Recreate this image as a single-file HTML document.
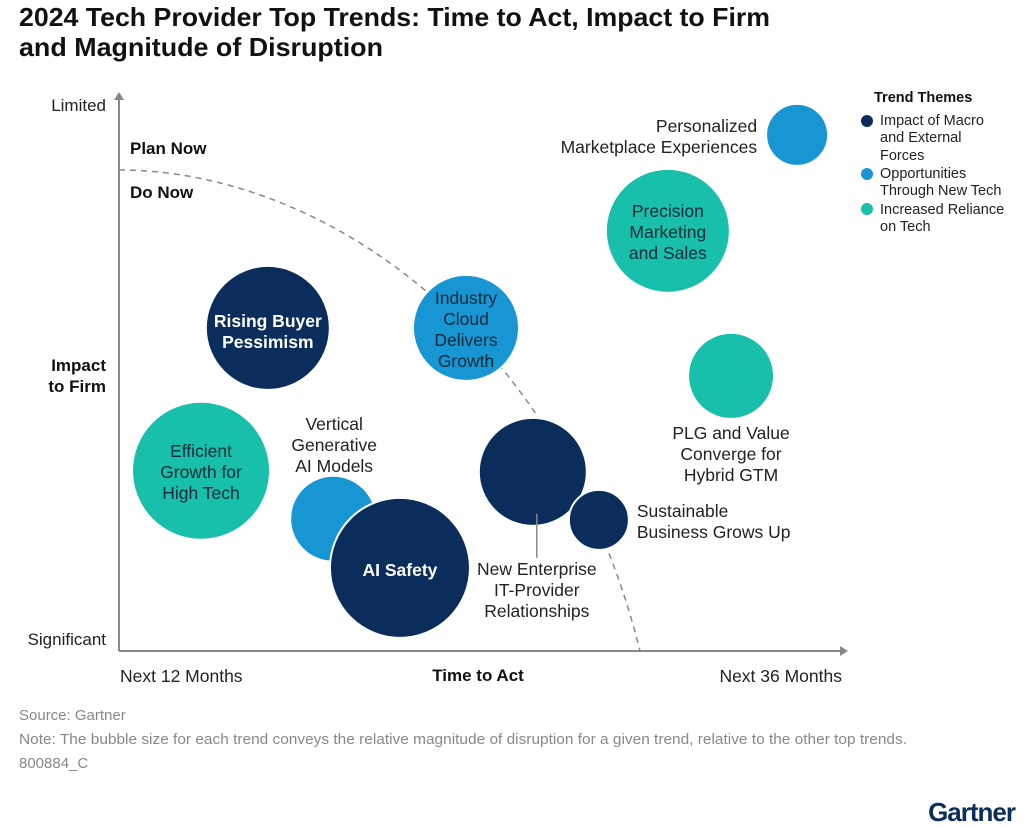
<!DOCTYPE html>
<html><head><meta charset="utf-8"><style>
body{margin:0;background:#fff;width:1029px;height:828px;overflow:hidden;font-family:"Liberation Sans",sans-serif}
svg{position:absolute;left:0;top:0}
</style></head><body>
<svg id="chart" width="1029" height="828" viewBox="0 0 1029 828" xmlns="http://www.w3.org/2000/svg" font-family="Liberation Sans, sans-serif">
<text x="19" y="26" font-size="26" font-weight="bold" fill="#111" textLength="751" lengthAdjust="spacingAndGlyphs">2024 Tech Provider Top Trends: Time to Act, Impact to Firm</text>
<text x="19" y="56" font-size="26" font-weight="bold" fill="#111" textLength="364" lengthAdjust="spacingAndGlyphs">and Magnitude of Disruption</text>
<line x1="119" y1="651" x2="119" y2="96" stroke="#888" stroke-width="2"/>
<polygon points="114,100 124,100 119,92" fill="#888"/>
<line x1="119" y1="651" x2="842" y2="651" stroke="#888" stroke-width="2"/>
<polygon points="840,646 840,656 848,651" fill="#888"/>
<path d="M119,170 C320,170 560,330 640,651" fill="none" stroke="#888" stroke-width="1.5" stroke-dasharray="6,5"/>
<text x="106" y="111" font-size="17" text-anchor="end" fill="#222">Limited</text>
<text x="106" y="645" font-size="17" text-anchor="end" fill="#222">Significant</text>
<text x="106" y="371" font-size="17" font-weight="bold" text-anchor="end" fill="#111">Impact</text>
<text x="106" y="392" font-size="17" font-weight="bold" text-anchor="end" fill="#111">to Firm</text>
<text x="120" y="682" font-size="17.5" fill="#222">Next 12 Months</text>
<text x="478" y="681" font-size="17" font-weight="bold" text-anchor="middle" fill="#111">Time to Act</text>
<text x="842" y="682" font-size="17.5" text-anchor="end" fill="#222">Next 36 Months</text>
<text x="130" y="154" font-size="17" font-weight="bold" fill="#111">Plan Now</text>
<text x="130" y="198" font-size="17" font-weight="bold" fill="#111">Do Now</text>
<g id="bubbles"></g>
<g>
<text x="874" y="102" font-size="14.5" font-weight="bold" fill="#111">Trend Themes</text>
<circle cx="867" cy="121" r="6" fill="#0a2d5c"/>
<text font-size="14.5" fill="#222"><tspan x="880" y="125">Impact of Macro</tspan><tspan x="880" y="142">and External</tspan><tspan x="880" y="160">Forces</tspan></text>
<circle cx="867" cy="174" r="6" fill="#1895d3"/>
<text font-size="14.5" fill="#222"><tspan x="880" y="178">Opportunities</tspan><tspan x="880" y="195">Through New Tech</tspan></text>
<circle cx="867" cy="209" r="6" fill="#18bfaa"/>
<text font-size="14.5" fill="#222"><tspan x="880" y="214">Increased Reliance</tspan><tspan x="880" y="231">on Tech</tspan></text>
</g>
<text x="19" y="720" font-size="15" fill="#888">Source: Gartner</text>
<text x="19" y="744" font-size="15" fill="#888" textLength="888" lengthAdjust="spacingAndGlyphs">Note: The bubble size for each trend conveys the relative magnitude of disruption for a given trend, relative to the other top trends.</text>
<text x="19" y="768" font-size="15" fill="#888">800884_C</text>
<text x="1015" y="821" font-size="26" font-weight="bold" text-anchor="end" fill="#0a2d5c" letter-spacing="-1">Gartner</text>
</svg>
<script>
const names=["Personalized Marketplace Experiences","Precision Marketing and Sales","Industry Cloud Delivers Growth","Rising Buyer Pessimism","PLG and Value Converge for Hybrid GTM","Efficient Growth for High Tech","New Enterprise IT-Provider Relationships","Sustainable Business Grows Up","Vertical Generative AI Models","AI Safety"];
const timeToAct=[93.4,75.6,47.8,20.5,84.3,11.3,57.0,66.1,29.5,38.7];
const impact=[92.5,75.3,57.9,57.9,49.3,32.3,32.1,23.5,23.7,14.9];
const magnitude=[31,62,53,62,43,69,54,30,43,70];
const theme=["opp","rel","opp","macro","rel","rel","macro","macro","opp","macro"];
const colors={macro:"#0a2d5c",opp:"#1895d3",rel:"#18bfaa"};
const xS=v=>119+v/100*726, yS=v=>651-v/100*558;
const NS="http://www.w3.org/2000/svg";
const g=document.getElementById('bubbles');
const labels=[
 [["Personalized","Marketplace Experiences"],"out",-40,-3,"end"],
 [["Precision","Marketing","and Sales"],"in",0,-14,"middle"],
 [["Industry","Cloud","Delivers","Growth"],"in",0,-24,"middle"],
 [["Rising Buyer","Pessimism"],"in",0,-1,"middle"],
 [["PLG and Value","Converge for","Hybrid GTM"],"out",0,63,"middle"],
 [["Efficient","Growth for","High Tech"],"in",0,-14,"middle"],
 [["New Enterprise","IT-Provider","Relationships"],"out",4,103,"middle"],
 [["Sustainable","Business Grows Up"],"out",38,-3,"start"],
 [["Vertical","Generative","AI Models"],"out",1,-89,"middle"],
 [["AI Safety"],"in",0,8,"middle"]
];
names.forEach((n,i)=>{
  const cx=xS(timeToAct[i]), cy=yS(impact[i]);
  const c=document.createElementNS(NS,'circle');
  
  
  c.setAttribute('cx',cx);c.setAttribute('cy',cy);c.setAttribute('r',magnitude[i]);
  c.setAttribute('fill',colors[theme[i]]);
  c.setAttribute('stroke','#fff');c.setAttribute('stroke-width','2');
  g.appendChild(c);
});
names.forEach((n,i)=>{
  const cx=xS(timeToAct[i]), cy=yS(impact[i]);
  const L=labels[i];
  if(i===6){
    const ln=document.createElementNS(NS,'line');
    
    
    ln.setAttribute('x1',cx+4);ln.setAttribute('y1',cy+42);ln.setAttribute('x2',cx+4);ln.setAttribute('y2',cy+86);
    ln.setAttribute('stroke','#888');ln.setAttribute('stroke-width','1.5');
    g.appendChild(ln);
  }
  const t=document.createElementNS(NS,'text');
  
  
  t.setAttribute('font-size','17.5');t.setAttribute('text-anchor',L[4]);
  let fill='#222';
  if(L[1]==='in'){fill=theme[i]==='macro'?'#fff':'#0d2a3a';}
  if(L[1]==='in'&&theme[i]==='macro')t.setAttribute('font-weight','bold');
  t.setAttribute('fill',fill);
  L[0].forEach((s,k)=>{
    const sp=document.createElementNS(NS,'tspan');
    sp.setAttribute('x',cx+L[2]);sp.setAttribute('y',cy+L[3]+k*21);
    sp.textContent=s;t.appendChild(sp);
  });
  g.appendChild(t);
});
</script>
</body></html>
